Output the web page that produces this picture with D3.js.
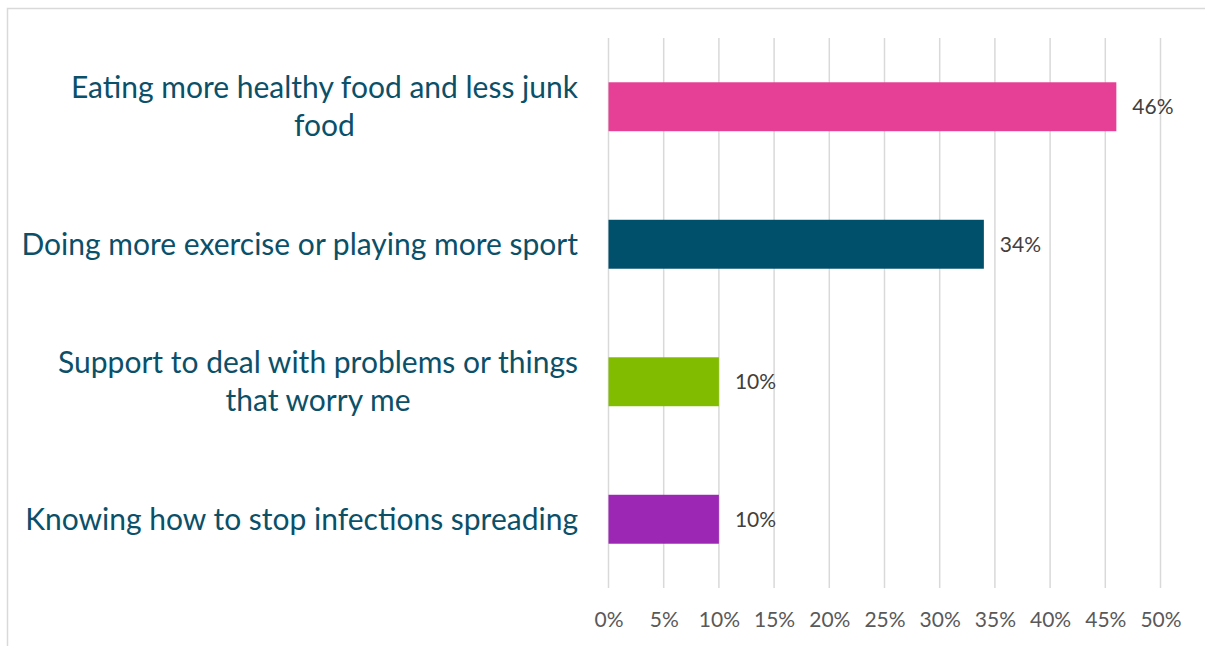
<!DOCTYPE html>
<html><head><meta charset="utf-8">
<script src="https://cdn.jsdelivr.net/npm/d3@7"></script>
<style>html,body{margin:0;padding:0;background:#fff;}svg{display:block;}</style>
</head><body>
<svg id="c" width="1205" height="646"></svg>
<script>
const categories = [
  ["Eating more healthy food and less junk", "food"],
  ["Doing more exercise or playing more sport"],
  ["Support to deal with problems or things", "that worry me"],
  ["Knowing how to stop infections spreading"]
];
const values = [46, 34, 10, 10];
const colors = ["#e64096", "#004f6b", "#82bc00", "#9b27b4"];
const tickValues = [0, 5, 10, 15, 20, 25, 30, 35, 40, 45, 50];

const svg = d3.select("#c");
svg.append("rect").attr("x", 7.5).attr("y", 8.5).attr("width", 1210).attr("height", 650)
  .attr("fill", "#fff").attr("stroke", "#d9d9d9").attr("stroke-width", 1.5);

const x = d3.scaleLinear().domain([0, 50]).range([608.5, 1160.5]);
const y = d3.scaleBand().domain(d3.range(categories.length)).range([38, 588])
  .paddingInner(0.644).paddingOuter(0.322);

// gridlines
svg.append("g").selectAll("line").data(tickValues).join("line")
  .attr("x1", d => x(d)).attr("x2", d => x(d)).attr("y1", 38).attr("y2", 588)
  .attr("stroke", "#d9d9d9").attr("stroke-width", 1.5);

// axis labels
const xAxis = d3.axisBottom(x).tickValues(tickValues).tickFormat(d => d + "%").tickSize(0).tickPadding(0);
const ax = svg.append("g").attr("transform", "translate(0,612)").call(xAxis);
ax.select(".domain").remove();
ax.selectAll("text").attr("font-family", "Lato, sans-serif").attr("font-size", 21).attr("fill", "#595959").attr("dy", "0.71em");

// bars
svg.append("g").selectAll("rect").data(values).join("rect")
  .attr("x", x(0)).attr("y", (d, i) => y(i)).attr("width", d => x(d) - x(0)).attr("height", y.bandwidth())
  .attr("fill", (d, i) => colors[i]);

// value labels
svg.append("g").selectAll("text").data(values).join("text")
  .attr("x", d => x(d) + 16).attr("y", (d, i) => y(i) + y.bandwidth() / 2).attr("dy", "0.35em")
  .attr("font-family", "Lato, sans-serif").attr("font-size", 21).attr("fill", "#404040")
  .text(d => d + "%");

// category labels
const lab = svg.append("g");
categories.forEach((lines, i) => {
  const cy = y(i) + y.bandwidth() / 2;
  const lh = 38;
  const t = lab.append("text").attr("font-family", "Lato, sans-serif").attr("font-size", 30)
    .attr("fill", "#0b5069").attr("text-anchor", "middle");
  const spans = lines.map((s, j) => t.append("tspan").attr("x", 0)
    .attr("y", cy + (j - (lines.length - 1) / 2) * lh).attr("dy", "0.35em").text(s));
  const w = d3.max(spans, s => s.node().getComputedTextLength());
  const cx = 578 - w / 2;
  spans.forEach(s => s.attr("x", cx));
});
</script>
</body></html>
